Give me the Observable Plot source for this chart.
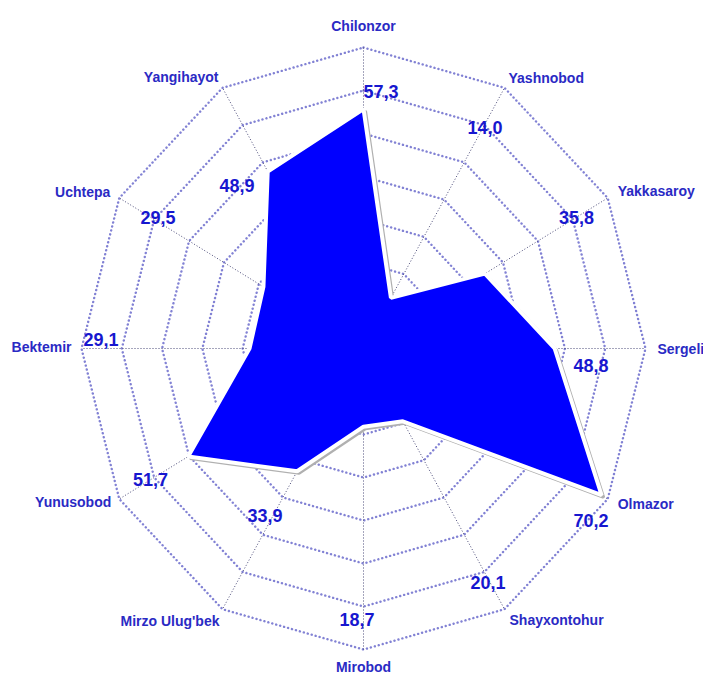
<!DOCTYPE html>
<html>
<head>
<meta charset="utf-8">
<script src="https://cdn.jsdelivr.net/npm/d3@7"></script>
<script src="https://cdn.jsdelivr.net/npm/@observablehq/plot@0.6"></script>
<style>
  html, body { margin: 0; padding: 0; background: #ffffff; }
  #chart svg { display: block; }
</style>
</head>
<body>
<div id="chart"></div>
<script>
// ---- data ----
const categories = ["Chilonzor", "Yashnobod", "Yakkasaroy", "Sergeli", "Olmazor", "Shayxontohur",
  "Mirobod", "Mirzo Ulug'bek", "Yunusobod", "Bektemir", "Uchtepa", "Yangihayot"];
const values = [57.3, 14.0, 35.8, 48.8, 70.2, 20.1, 18.7, 33.9, 51.7, 29.1, 29.5, 48.9];
const valueLabels = ["57,3", "14,0", "35,8", "48,8", "70,2", "20,1", "18,7", "33,9", "51,7", "29,1", "29,5", "48,9"];
const axisMax = 72;
const ringCount = 7;

// ---- geometry helpers (data units) ----
const n = categories.length;
const ang = i => i * 2 * Math.PI / n;
const pt = (r, i) => ({x: r * Math.sin(ang(i)), y: r * Math.cos(ang(i))});

const rings = [];
for (let k = 1; k <= ringCount; k++) {
  for (let i = 0; i < n; i++) rings.push({...pt(axisMax * k / ringCount, i), ring: k});
}
const spokes = categories.map((c, i) => ({x1: 0, y1: 0, x2: pt(axisMax, i).x, y2: pt(axisMax, i).y}));
const poly = values.map((v, i) => pt(v, i));

// label placement (styling)
const catPlace = [
  ["middle", 0, -21], ["start", 4, -9], ["start", 10, -6], ["start", 12, 1],
  ["start", 10, 6], ["start", 5, 11], ["middle", 0, 18], ["end", -3, 12],
  ["end", -8, 4], ["end", -10, -1], ["end", -9, -5], ["end", -4, -10]
];
const valueAnchorFrac = 0.85;
const valNudge = [
  [17.5, -0.7], [1.6, 1.1], [5.4, -2.6], [-12.2, 17.5], [19.9, 45.1], [4.6, 12.9],
  [-6.5, 15.6], [21.4, -53.6], [-5.4, 4.1], [-22.8, -8], [2.1, -2.6], [-6.6, 59.6]
];

const font = "'Liberation Sans', Arial, sans-serif";
const catMarks = categories.map((c, i) => Plot.text([{...pt(axisMax, i), t: c}], {
  x: "x", y: "y", text: "t", textAnchor: catPlace[i][0], dx: catPlace[i][1], dy: catPlace[i][2],
  fill: "#2a2ac4", fontSize: 14, fontWeight: "bold", fontFamily: font
}));
const valMarks = valueLabels.map((t, i) => Plot.text([{...pt(axisMax * valueAnchorFrac, i), t}], {
  x: "x", y: "y", text: "t", textAnchor: "middle", dx: valNudge[i][0], dy: valNudge[i][1],
  fill: "#1717cf", fontSize: 18, fontWeight: "bold", fontFamily: font
}));

const chart = Plot.plot({
  width: 703,
  height: 675,
  marginLeft: 81,
  marginRight: 58,
  marginTop: 47,
  marginBottom: 26,
  x: {domain: [-axisMax, axisMax], axis: null},
  y: {domain: [-axisMax, axisMax], axis: null},
  style: {background: "#ffffff", fontFamily: font},
  marks: [
    Plot.line(rings, {x: "x", y: "y", z: "ring", curve: "linear-closed",
      stroke: "#8282d4", strokeWidth: 2.4, strokeDasharray: "0.1,4", strokeLinecap: "round"}),
    Plot.link(spokes, {x1: "x1", y1: "y1", x2: "x2", y2: "y2",
      stroke: "#4a4a78", strokeWidth: 1, strokeDasharray: "1,2"}),
    Plot.line(poly, {x: "x", y: "y", curve: "linear-closed", dx: 2, dy: 2,
      fill: "#b0b0b0", stroke: "#b0b0b0", strokeWidth: 3, strokeLinejoin: "miter"}),
    Plot.line(poly, {x: "x", y: "y", curve: "linear-closed",
      fill: "#0000ff", stroke: "#ffffff", strokeWidth: 4, strokeLinejoin: "miter"}),
    ...catMarks,
    ...valMarks
  ]
});
document.getElementById("chart").appendChild(chart);
</script>
</body>
</html>
